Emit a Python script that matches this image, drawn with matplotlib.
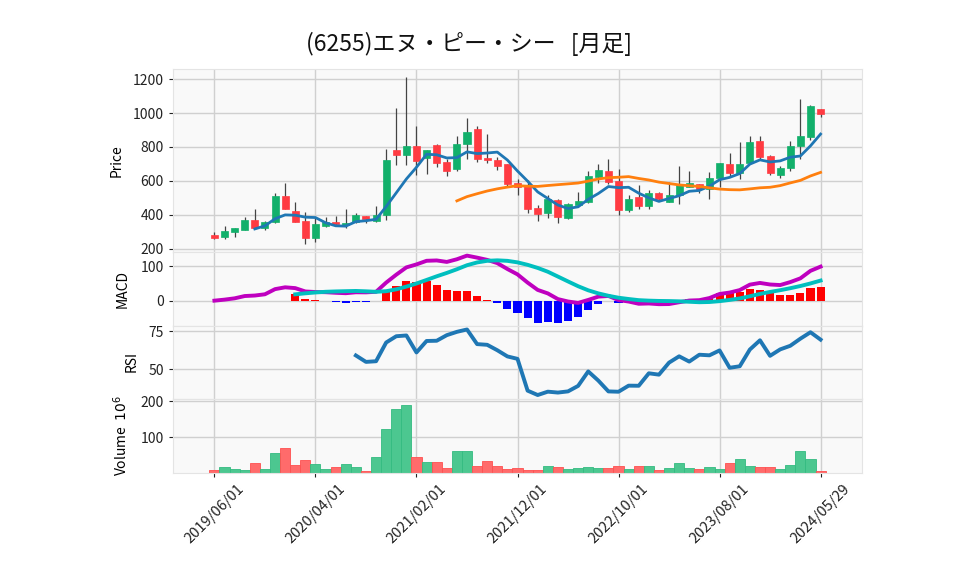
import numpy as np
import pandas as pd
import matplotlib
matplotlib.use("Agg")
import matplotlib.pyplot as plt

plt.rcParams['font.family'] = ['Noto Sans CJK JP', 'DejaVu Sans']

title = "(6255)エヌ・ピー・シー   [月足]"

opens = [282, 272, 302, 314, 370, 325, 361, 512, 421, 363,
         267, 337, 359, 341, 359, 394, 365, 402, 782, 755,
         806, 737, 812, 712, 672, 816, 906, 735, 723, 700,
         588, 570, 441, 414, 488, 384, 457, 478, 625, 659,
         600, 429, 506, 455, 527, 478, 516, 565, 582, 551,
         616, 698, 645, 708, 835, 745, 635, 678, 808, 861,
         1024]
highs = [298, 333, 325, 390, 433, 362, 527, 586, 474, 420,
         390, 390, 396, 433, 413, 395, 453, 786, 1027, 1210,
         922, 785, 816, 727, 863, 969, 922, 874, 741, 700,
         610, 606, 457, 518, 494, 472, 533, 657, 698, 727,
         669, 516, 574, 545, 537, 596, 690, 659, 584, 651,
         706, 763, 831, 863, 863, 750, 690, 835, 1080, 1047,
         1025]
lows = [257, 261, 270, 312, 316, 313, 351, 433, 357, 229,
        243, 331, 341, 321, 351, 355, 360, 370, 692, 692,
        635, 639, 684, 629, 657, 727, 712, 708, 663, 570,
        516, 410, 367, 380, 355, 374, 455, 472, 590, 582,
        398, 419, 437, 433, 488, 475, 465, 563, 531, 494,
        567, 625, 610, 704, 727, 633, 616, 659, 729, 841,
        978]
closes = [267, 304, 323, 370, 325, 358, 512, 437, 361, 267,
          347, 359, 347, 351, 400, 374, 400, 723, 755, 806,
          720, 782, 708, 661, 816, 890, 731, 725, 688, 582,
          567, 433, 408, 494, 390, 465, 482, 629, 665, 596,
          431, 494, 455, 527, 492, 516, 576, 586, 551, 618,
          706, 645, 698, 829, 743, 645, 676, 806, 865, 1041,
          992]
volumes = [9.3, 17.6, 12, 9.3, 28.7, 12, 56.5, 69.4, 22.2, 36.1,
           25.9, 12, 19.4, 25.9, 17.6, 8.3, 45.4, 123, 178.7, 189.8,
           45.4, 31.5, 31.5, 14.8, 62, 62, 20.4, 34.3, 20.4, 12,
           14.8, 11, 9.3, 20.4, 17.6, 12, 14.8, 17.6, 14.8, 14.8,
           20.4, 12, 20.4, 20.4, 9.3, 14.8, 28.7, 14.8, 12, 17.6,
           12, 28.7, 39.8, 20.4, 17.6, 17.6, 12, 23, 62, 39.8,
           6.5]
tick_pos = [0, 10, 20, 30, 40, 50, 60]
tick_labels = ['2019/06/01', '2020/04/01', '2021/02/01', '2021/12/01',
               '2022/10/01', '2023/08/01', '2024/05/29']

o = np.array(opens, float)
h = np.array(highs, float)
l = np.array(lows, float)
c = np.array(closes, float)
v = np.array(volumes, float)
x = np.arange(len(c))
cs = pd.Series(c)

ma5 = cs.rolling(5).mean()
ma25 = cs.rolling(25).mean()
ema12 = cs.ewm(span=12, adjust=False).mean()
ema26 = cs.ewm(span=26, adjust=False).mean()
macd = ema12 - ema26
signal = macd.rolling(9).mean()
hist = macd - signal
delta = cs.diff()
gain = delta.clip(lower=0).rolling(14).mean()
loss = (-delta.clip(upper=0)).rolling(14).mean()
rsi = 100 * gain / (gain + loss)

W, H = 958, 575
fig = plt.figure(figsize=(W / 100, H / 100), dpi=100)

def add(top, bottom):
    left, right = 173, 862
    return fig.add_axes([left / W, 1 - bottom / H, (right - left) / W, (bottom - top) / H])

ax1 = add(69, 252)
ax2 = add(252, 325.5)
ax3 = add(325.5, 398.5)
ax4 = add(398.5, 472.5)

GREEN = '#12b06b'
RED = '#ff3b42'
bg = '#f9f9f9'
gridc = '#d0d0d0'

for ax in (ax1, ax2, ax3, ax4):
    ax.set_facecolor(bg)
    ax.grid(True, color=gridc, linewidth=1.0)
    ax.set_axisbelow(True)
    for s in ax.spines.values():
        s.set_color('#e4e4e4')
        s.set_linewidth(0.8)
    ax.set_xlim(-4.1, 64.1)
    ax.set_xticks(tick_pos)
    ax.tick_params(axis='both', labelsize=10, length=3, color='#222222', labelcolor='#222222')
    ax.tick_params(axis='x', length=0 if ax is not ax4 else 3)
    if ax is not ax4:
        ax.set_xticklabels([])

# candles
up = c >= o
ccol = np.where(up, GREEN, RED)
ax1.vlines(x, l, h, color='#444444', linewidth=0.9, zorder=2)
ax1.bar(x, np.abs(c - o) + 0.5, bottom=np.minimum(o, c), width=0.7, color=ccol,
        edgecolor=ccol, linewidth=0.5, zorder=3)
ax1.plot(x, ma5, color='#1f77b4', linewidth=2, zorder=4)
ax1.plot(x, ma25, color='#ff7f0e', linewidth=2, zorder=4)
ax1.set_ylim(182, 1259)
ax1.set_yticks([200, 400, 600, 800, 1000, 1200])
ax1.set_ylabel('Price', fontsize=10, labelpad=7)

# MACD
hcol = np.where(hist >= 0, '#ff0000', '#0000ff')
ax2.bar(x, hist.fillna(0), width=0.8, color=hcol, zorder=2)
ax2.plot(x, macd, color='#bf00bf', linewidth=2.8, zorder=3)
ax2.plot(x, signal, color='#00bfbf', linewidth=2.8, zorder=3)
ax2.set_ylim(-72, 141)
ax2.set_yticks([0, 100])
ax2.set_ylabel('MACD', fontsize=10, labelpad=8)

# RSI
ax3.plot(x, rsi, color='#1f77b4', linewidth=2.8)
ax3.set_ylim(30.9, 78.6)
ax3.set_yticks([50, 75])
ax3.set_ylabel('RSI', fontsize=10, labelpad=7)

# Volume
prev = np.concatenate([[o[0]], c[:-1]])
vup = c >= prev
vcol = np.where(vup, '#4cc790', '#ff6b6b')
vedge = np.where(vup, '#33bb80', '#ff5050')
ax4.bar(x, v, width=1.0, color=vcol, edgecolor=vedge, linewidth=0.6, zorder=2)
ax4.set_ylim(2.8, 207.8)
ax4.set_yticks([100, 200])
ax4.set_ylabel('Volume  $10^{6}$', fontsize=10, labelpad=8)
ax4.set_xticklabels(tick_labels, rotation=45, ha='center', fontsize=10.5)

fig.text(469 / W, 1 - 44 / H, title, ha='center', va='center', fontsize=16.5, color='#111111')

fig.savefig('out.png', dpi=100)
